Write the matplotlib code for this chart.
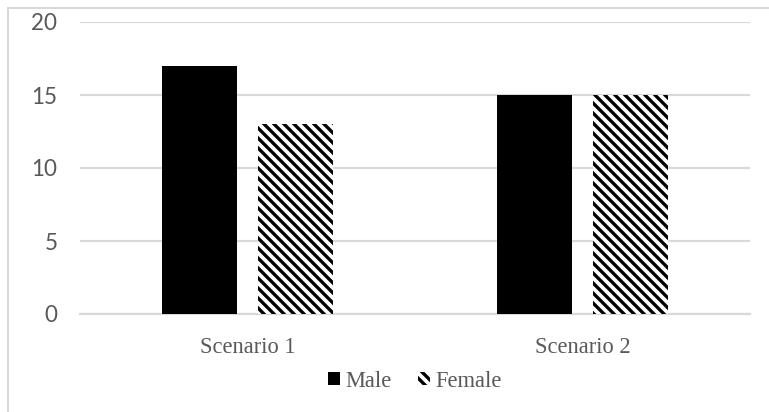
import matplotlib.pyplot as plt
import numpy as np
from matplotlib.lines import Line2D

categories = ["Scenario 1", "Scenario 2"]
male = [17, 15]
female = [13, 15]
y_ticks = [0, 5, 10, 15, 20]

DPI = 120
GRID = "#d9d9d9"
TEXT = "#595959"
SERIF = "Liberation Serif"

# at 120 dpi four backslashes give ~10 px stripe spacing
plt.rcParams["hatch.linewidth"] = 2.0

fig = plt.figure(figsize=(769 / DPI, 412 / DPI), dpi=DPI)
ax = fig.add_axes([80 / 769, 1 - 314 / 412, 670 / 769, 292 / 412])

x = np.arange(len(categories))
width = 0.225
offset = 0.1425
ax.bar(x - offset, male, width, color="black", linewidth=0, label="Male", zorder=3)
ax.bar(x + offset, female, width, color="white", edgecolor="black", hatch="\\\\\\\\",
       linewidth=0, label="Female", zorder=3)

ax.set_xlim(-0.5, len(categories) - 0.5)
ax.set_ylim(0, 20)
ax.set_yticks(y_ticks)
ax.set_xticks(x)
ax.set_xticklabels(categories, fontsize=13.5, color=TEXT)
ax.tick_params(axis="y", labelsize=13.5, labelcolor=TEXT, length=0, pad=13.5)
ax.tick_params(axis="x", length=0, pad=14)
for lab in ax.get_yticklabels():
    lab.set_fontfamily("Lato")
for lab in ax.get_xticklabels():
    lab.set_fontfamily(SERIF)

ax.grid(axis="y", color=GRID, linewidth=1.3, zorder=0)
for side in ["top", "right", "left"]:
    ax.spines[side].set_visible(False)
ax.spines["bottom"].set_color(GRID)
ax.spines["bottom"].set_linewidth(1.3)

leg = ax.legend(loc="center", bbox_to_anchor=(0.5, -0.23), ncol=2, frameon=False,
                fontsize=13.5, handlelength=0.5, handleheight=0.5,
                handletextpad=0.25, columnspacing=1.2)
for t in leg.get_texts():
    t.set_color(TEXT)
    t.set_fontfamily(SERIF)

# outer chart frame, only left and top edges fall inside the image
fig.add_artist(Line2D([7.5 / 769, 7.5 / 769], [0, 1 - 7.5 / 412], color=GRID, linewidth=1.2))
fig.add_artist(Line2D([7.5 / 769, 1], [1 - 7.5 / 412, 1 - 7.5 / 412], color=GRID, linewidth=1.2))

fig.savefig("out.png", dpi=DPI, facecolor="white")
